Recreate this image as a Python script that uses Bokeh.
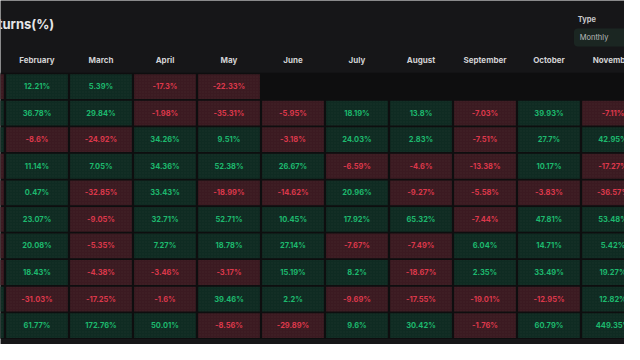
from bokeh.plotting import figure
from bokeh.models import Range1d, ColumnDataSource
from bokeh.core.properties import value
from bokeh.embed import file_html
from bokeh.resources import INLINE

# ---- data ----
months = ["January", "February", "March", "April", "May", "June", "July",
          "August", "September", "October", "November"]
years = [2022, 2021, 2020, 2019, 2018, 2017, 2016, 2015, 2014, 2013]

jan = [-16.68, 14.51, 29.95, -7.37, -25.41, -0.04, -14.83, -33.05, 10.03, 44.05]
feb = [12.21, 36.78, -8.6, 11.14, 0.47, 23.07, 20.08, 18.43, -31.03, 61.77]
mar = [5.39, 29.84, -24.92, 7.05, -32.85, -9.05, -5.35, -4.38, -17.25, 172.76]
apr = [-17.3, -1.98, 34.26, 34.36, 33.43, 32.71, 7.27, -3.46, -1.6, 50.01]
may = [-22.33, -35.31, 9.51, 52.38, -18.99, 52.71, 18.78, -3.17, 39.46, -8.56]
jun = [None, -5.95, -3.18, 26.67, -14.62, 10.45, 27.14, 15.19, 2.2, -29.89]
jul = [None, 18.19, 24.03, -6.59, 20.96, 17.92, -7.67, 8.2, -9.69, 9.6]
aug = [None, 13.8, 2.83, -4.6, -9.27, 65.32, -7.49, -18.67, -17.55, 30.42]
sep = [None, -7.03, -7.51, -13.38, -5.58, -7.44, 6.04, 2.35, -19.01, -1.76]
octo = [None, 39.93, 27.7, 10.17, -3.83, 47.81, 14.71, 33.49, -12.95, 60.79]
nov = [None, -7.11, 42.95, -17.27, -36.57, 53.48, 5.42, 19.27, 12.82, 449.35]

columns = [jan, feb, mar, apr, may, jun, jul, aug, sep, octo, nov]

BG = "#161618"
TABLE_BG = "#0e0e0f"
G_FILL = "#0f2b22"
R_FILL = "#3b1a21"
G_TXT = "#1db96e"
R_TXT = "#dc384b"

xs, ys, fills, txts, labels, tx, ty = [], [], [], [], [], [], []
for ci, col in enumerate(columns):
    for ri, v in enumerate(col):
        if v is None:
            continue
        xs.append(ci)
        ys.append(ri)
        fills.append(G_FILL if v >= 0 else R_FILL)
        if ci > 0:
            tx.append(ci)
            ty.append(ri)
            labels.append(f"{v:g}%")
            txts.append(G_TXT if v >= 0 else R_TXT)

p = figure(width=624, height=344, output_backend="svg", toolbar_location=None,
           x_range=Range1d(0.43, 10.18), y_range=Range1d(9.71, -3.24),
           min_border=0, background_fill_color=BG, border_fill_color=BG,
           outline_line_color=None)
p.axis.visible = False
p.grid.visible = False

# table background (gaps)
p.quad(left=[-1], right=[11], top=[-0.52], bottom=[9.5], fill_color=TABLE_BG, line_color=None)

cells = ColumnDataSource(dict(x=xs, y=ys, c=fills))
p.rect(x="x", y="y", width=0.965, height=0.935, source=cells, fill_color="c",
       line_color=None, hatch_pattern="dot", hatch_color="#ffffff", hatch_alpha=0.035,
       hatch_scale=3)

tsrc = ColumnDataSource(dict(x=tx, y=ty, t=labels, c=txts))
p.text(x="x", y="y", text="t", text_color="c", source=tsrc, text_align="center",
       text_baseline="middle", text_font=value("Inter"), text_font_size="7.5px",
       text_font_style="bold")

# month headers
hx = list(range(1, len(months)))
hy = [-1.0] * len(hx)
p.text(x=hx, y=hy, text=months[1:], text_color="#d2d2d4", text_align="center",
       text_baseline="middle", text_font=value("Inter"), text_font_size="8px",
       text_font_style="bold")

# title
p.text(x=[1.27], y=[-2.37], text=["Bitcoin Monthly Returns(%)"], text_color="#e6e6e8",
       text_align="right", text_baseline="middle", text_font=value("Inter"),
       text_font_size="13px", text_font_style="bold")

# type selector
p.text(x=[9.45], y=[-2.52], text=["Type"], text_color="#c8c8ca", text_align="left",
       text_baseline="middle", text_font=value("Inter"), text_font_size="7.5px",
       text_font_style="bold")
p.quad(left=[9.39], right=[10.4], top=[-2.19], bottom=[-1.51], fill_color="#1b2622",
       line_color=None, border_radius=4)
p.text(x=[9.48], y=[-1.86], text=["Monthly"], text_color="#b8bcbb", text_align="left",
       text_baseline="middle", text_font=value("Inter"), text_font_size="7.5px")

open("out.html", "w").write(file_html(p, INLINE))
